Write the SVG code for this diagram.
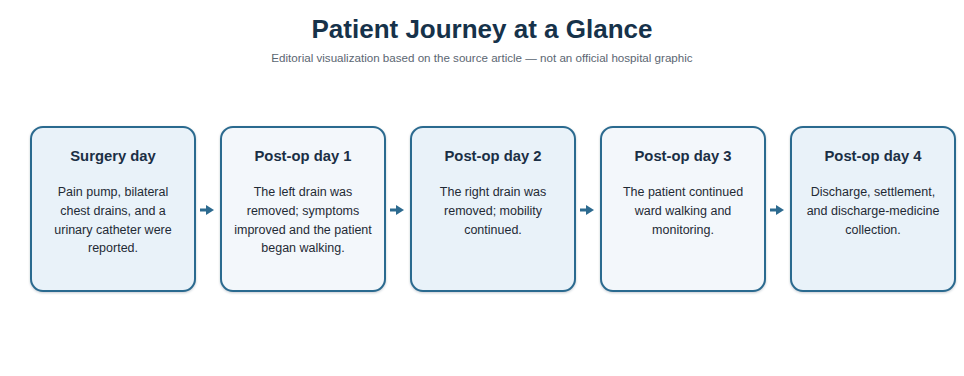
<svg xmlns="http://www.w3.org/2000/svg" width="964" height="376" viewBox="0 0 964 376">
<style>
.title{font-family:"Liberation Sans",Arial,sans-serif;font-size:26px;font-weight:bold;fill:#16324a;text-anchor:middle}
.sub{font-family:"Liberation Sans",Arial,sans-serif;font-size:11.6px;fill:#5b6672;text-anchor:middle}
.box{stroke:#2c6a8f;stroke-width:2}
.a{fill:#e9f2f9}
.b{fill:#f3f7fb}
.h{font-family:"Liberation Sans",Arial,sans-serif;font-size:14.8px;font-weight:bold;fill:#1b2f45;text-anchor:middle}
.t{font-family:"Liberation Sans",Arial,sans-serif;font-size:12.5px;fill:#1f2a35;text-anchor:middle}
.c{stroke:#2c6a8f;stroke-width:3;fill:none}
</style>
<defs>
<marker id="ah" markerWidth="4" markerHeight="4" refX="1" refY="2" orient="auto" markerUnits="userSpaceOnUse" viewBox="0 0 4 4" overflow="visible">
<path d="M0,-3 L8,2 L0,7 Z" fill="#2c6a8f"/>
</marker>
<filter id="sh" x="-10%" y="-10%" width="120%" height="120%">
<feDropShadow dx="0" dy="1" stdDeviation="0.8" flood-color="#1b2f45" flood-opacity="0.25"/>
</filter>
</defs>
<rect width="964" height="376" fill="#ffffff"/>
<text class="title" x="482" y="38">Patient Journey at a Glance</text>
<text class="sub" x="482" y="62">Editorial visualization based on the source article — not an official hospital graphic</text>
<g id="connectors">
<line class="c" x1="200" y1="210" x2="207" y2="210" marker-end="url(#ah)"/>
<line class="c" x1="390" y1="210" x2="397" y2="210" marker-end="url(#ah)"/>
<line class="c" x1="580" y1="210" x2="587" y2="210" marker-end="url(#ah)"/>
<line class="c" x1="770" y1="210" x2="777" y2="210" marker-end="url(#ah)"/>
</g>
<g id="node1">
<rect class="box a" x="31" y="127" width="164" height="164" rx="12" filter="url(#sh)"/>
<text class="h" x="113" y="161">Surgery day</text>
<text class="t" x="113" y="196">Pain pump, bilateral</text>
<text class="t" x="113" y="215">chest drains, and a</text>
<text class="t" x="113" y="234">urinary catheter were</text>
<text class="t" x="113" y="252">reported.</text>
</g>
<g id="node2">
<rect class="box b" x="221" y="127" width="164" height="164" rx="12" filter="url(#sh)"/>
<text class="h" x="303" y="161">Post-op day 1</text>
<text class="t" x="303" y="196">The left drain was</text>
<text class="t" x="303" y="215">removed; symptoms</text>
<text class="t" x="303" y="234">improved and the patient</text>
<text class="t" x="303" y="252">began walking.</text>
</g>
<g id="node3">
<rect class="box a" x="411" y="127" width="164" height="164" rx="12" filter="url(#sh)"/>
<text class="h" x="493" y="161">Post-op day 2</text>
<text class="t" x="493" y="196">The right drain was</text>
<text class="t" x="493" y="215">removed; mobility</text>
<text class="t" x="493" y="234">continued.</text>
</g>
<g id="node4">
<rect class="box b" x="601" y="127" width="164" height="164" rx="12" filter="url(#sh)"/>
<text class="h" x="683" y="161">Post-op day 3</text>
<text class="t" x="683" y="196">The patient continued</text>
<text class="t" x="683" y="215">ward walking and</text>
<text class="t" x="683" y="234">monitoring.</text>
</g>
<g id="node5">
<rect class="box a" x="791" y="127" width="164" height="164" rx="12" filter="url(#sh)"/>
<text class="h" x="873" y="161">Post-op day 4</text>
<text class="t" x="873" y="196">Discharge, settlement,</text>
<text class="t" x="873" y="215">and discharge-medicine</text>
<text class="t" x="873" y="234">collection.</text>
</g>
</svg>
